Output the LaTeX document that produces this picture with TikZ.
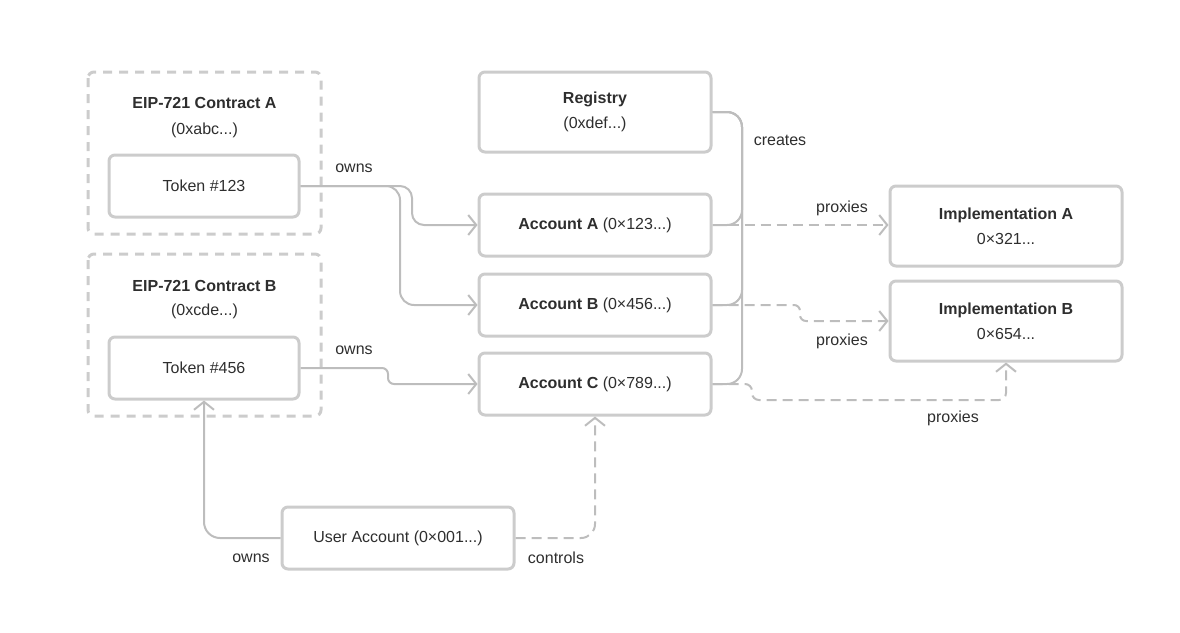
\documentclass[tikz,border=0pt]{standalone}
\usepackage{fontspec}
\setmainfont{Liberation Sans}
\usetikzlibrary{arrows.meta}
\definecolor{boxline}{HTML}{CCCCCC}
\definecolor{conline}{HTML}{BDBDBD}
\definecolor{txt}{HTML}{2E2E2E}
\begin{document}
\begin{tikzpicture}[x=1pt,y=-1pt,
  font=\fontsize{16}{19}\selectfont, text=txt,
  box/.style={draw=boxline, line width=3pt, rounded corners=6pt, minimum width=#1, inner sep=0pt, align=center},
  grp/.style={draw=boxline, line width=3pt, rounded corners=6pt, dash pattern=on 9pt off 7pt},
  conn/.style={draw=conline, line width=2pt, -{Straight Barb[length=8pt,width=20pt,line width=2pt]}},
  plain/.style={draw=conline, line width=2pt},
  dconn/.style={conn, dash pattern=on 10pt off 6pt},
  lbl/.style={inner sep=0pt}]
\useasboundingbox (0,0) rectangle (1180,632);
% groups
\draw[grp] (88,72) rectangle (321,234);
\draw[grp] (88,254) rectangle (321,416);
\node[lbl] (tA) at (204.5,103) {\textbf{EIP-721 Contract A}};
\node[lbl] (aA) at (204.5,130) {(0xabc...)};
\node[lbl] (tB) at (204.5,286) {\textbf{EIP-721 Contract B}};
\node[lbl] (aB) at (204.5,311) {(0xcde...)};
% nodes
\node[box=190pt, minimum height=62pt] (T1) at (204,186) {Token \#123};
\node[box=190pt, minimum height=62pt] (T2) at (204,368) {Token \#456};
\node[box=232pt, minimum height=80pt] (R) at (595,112) {\textbf{Registry}\\[6pt](0xdef...)};
\node[box=232pt, minimum height=80pt] (IA) at (1006,226) {\textbf{Implementation A}\\[6pt]0×321...};
\node[box=232pt, minimum height=80pt] (IB) at (1006,321) {\textbf{Implementation B}\\[6pt]0×654...};
\node[box=232pt, minimum height=62pt] (A) at (595,225) {\textbf{Account A} (0×123...)};
\node[box=232pt, minimum height=62pt] (B) at (595,305) {\textbf{Account B} (0×456...)};
\node[box=232pt, minimum height=62pt] (C) at (595,384) {\textbf{Account C} (0×789...)};
\node[box=232pt, minimum height=62pt] (U) at (398,538) {User Account (0×001...)};
% owns from tokens
\draw[conn, rounded corners=12pt] (T1.east) -- (412,186) -- (412,225) -- (A.west);
\draw[conn, rounded corners=14pt] (T1.east) -- (400,186) -- (400,305) -- (B.west);
\draw[conn, rounded corners=6pt] (T2.east) -- (388,368) -- (388,384) -- (C.west);
\node[lbl] (o1) at (354,168) {owns};
\node[lbl] (o2) at (354,350) {owns};
% creates
\draw[plain, rounded corners=15pt] (R.east) -- (742,112) -- (742,225) -- (A.east);
\draw[plain, rounded corners=15pt] (R.east) -- (742,112) -- (742,305) -- (B.east);
\draw[plain, rounded corners=15pt] (R.east) -- (742,112) -- (742,384) -- (C.east);
\node[lbl] (cr) at (780,140) {creates};
% proxies
\draw[dconn] (A.east) -- (IA.west |- A.east);
\node[lbl] (p1) at (842,208) {proxies};
\draw[dconn, rounded corners=6pt] (B.east) -- (800,305) -- (800,321) -- (IB.west);
\node[lbl] (p2) at (842,341) {proxies};
\draw[dconn, rounded corners=7pt] (C.east) -- (752,384) -- (752,400) -- (1006,400) -- (IB.south);
\node[lbl] (p3) at (953,418) {proxies};
% user account
\draw[conn, rounded corners=16pt] (U.west) -- (204,538) -- (T2.south);
\node[lbl] (o3) at (251,558) {owns};
\draw[dconn, rounded corners=14pt] (U.east) -- (595,538) -- (C.south);
\node[lbl] (ct) at (556,558) {controls};
\end{tikzpicture}
\end{document}
